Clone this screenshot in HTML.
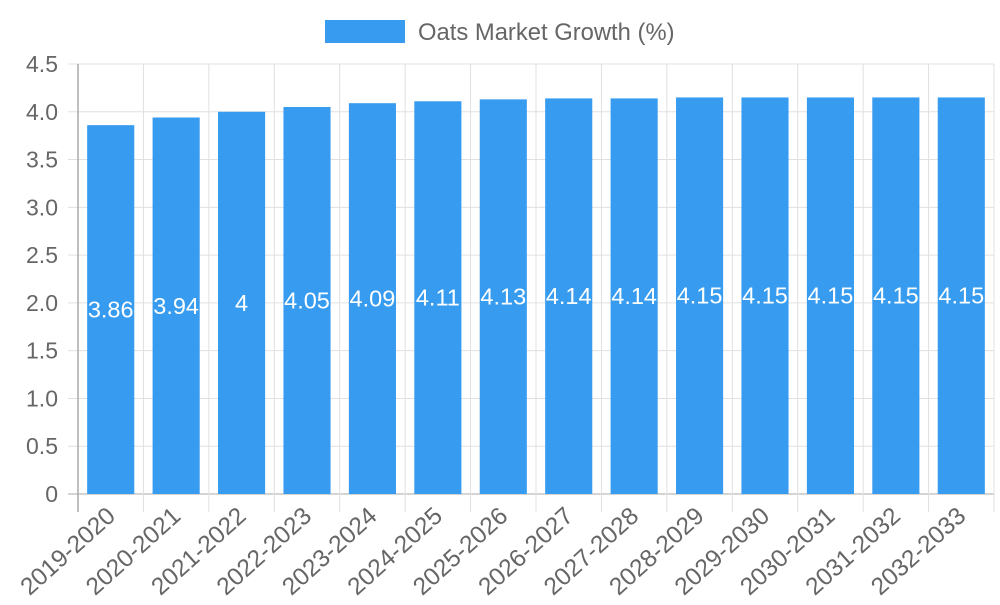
<!DOCTYPE html>
<html><head><meta charset="utf-8"><style>
body{margin:0;background:#fff;font-family:"Liberation Sans",sans-serif}
svg text{font-family:"Liberation Sans",sans-serif}
</style></head><body>
<svg id="c" width="1000" height="600">
<g>
<rect x="325" y="20" width="80" height="23" fill="#379cf0"/>
<text x="418" y="40" font-size="23.8" fill="#666">Oats Market Growth (%)</text>
</g>
</svg>
<script>
const categories=["2019-2020","2020-2021","2021-2022","2022-2023","2023-2024","2024-2025","2025-2026","2026-2027","2027-2028","2028-2029","2029-2030","2030-2031","2031-2032","2032-2033"];
const values=[3.86,3.94,4,4.05,4.09,4.11,4.13,4.14,4.14,4.15,4.15,4.15,4.15,4.15];
const yTicks=[0,0.5,1,1.5,2,2.5,3,3.5,4,4.5];
const yTickLabels=["0","0.5","1.0","1.5","2.0","2.5","3.0","3.5","4.0","4.5"];
const svg=document.getElementById('c');const NS='http://www.w3.org/2000/svg';
const L=78,R=994,T=64,B=494,yMax=4.5;
const step=(R-L)/categories.length;
const y=v=>B-(v/yMax)*(B-T);
const xc=i=>L+step*(i+0.5);
function mk(t,a){const e=document.createElementNS(NS,t);for(const k in a)e.setAttribute(k,a[k]);svg.appendChild(e);return e;}
yTicks.forEach((v,i)=>{
 const g=mk('line',{x1:68,x2:R,y1:y(v),y2:y(v),stroke:i===0?'#aaa':'#e0e0e0','stroke-width':1});
 
 
 const t=mk('text',{x:58,y:y(v)+8,'text-anchor':'end','font-size':23,fill:'#666'});t.textContent=yTickLabels[i];
 
 
});
for(let i=0;i<=categories.length;i++){
 const xx=L+step*i;
 const g=mk('line',{x1:xx,x2:xx,y1:T,y2:512,stroke:i===0?'#aaa':'#e0e0e0','stroke-width':1});
 
 
}
categories.forEach((c,i)=>{
 const bw=step*0.72;
 const r=mk('rect',{x:xc(i)-bw/2,y:y(values[i]),width:bw,height:B-y(values[i]),fill:'#379cf0'});
 
 
 const lt=mk('text',{x:xc(i),y:y(values[i]/2)+8,'text-anchor':'middle','font-size':23.5,fill:'#fff'});lt.textContent=String(values[i]);
 
 
 const ax0=xc(i)+6,ay0=518;
 const xt=mk('text',{x:ax0,y:ay0,'text-anchor':'end','font-size':24.5,fill:'#666',transform:`rotate(-42 ${ax0} ${ay0})`});xt.textContent=c;
 
 
});
const ax=mk('line',{x1:L,x2:L,y1:T,y2:512,stroke:'#aaa','stroke-width':1.5});


</script>
</body></html>
